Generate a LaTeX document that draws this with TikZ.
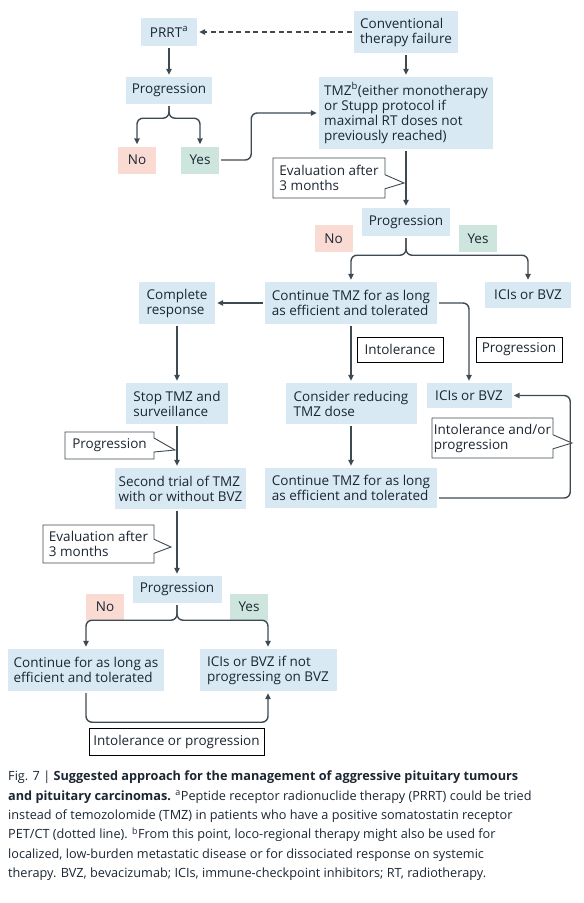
\documentclass[tikz,border=0pt]{standalone}
\usepackage{fontspec}
\setmainfont{Open Sans}
\usetikzlibrary{arrows.meta,shapes.callouts}
\definecolor{boxblue}{HTML}{D8E9F3}
\definecolor{nopink}{HTML}{F9DBD3}
\definecolor{yesgreen}{HTML}{CDE5DC}
\definecolor{linegray}{HTML}{3E4A52}
\definecolor{inkdark}{HTML}{1B2632}
\begin{document}
\begin{tikzpicture}[x=1pt,y=-1pt,
  every node/.style={font=\fontsize{13.5}{15}\selectfont,text=inkdark},
  tbox/.style={fill=boxblue,inner sep=0pt,align=left},
  nobox/.style={fill=nopink,inner sep=0pt,minimum width=38,minimum height=27},
  yesbox/.style={fill=yesgreen,inner sep=0pt,minimum width=38,minimum height=27},
  tagbox/.style={draw=black,line width=0.9pt,fill=white,inner sep=0pt,minimum width=86,minimum height=25},
  callbox/.style={rectangle callout,draw=linegray,line width=0.9pt,fill=white,inner sep=0pt,align=left,callout pointer width=14pt},
  flow/.style={draw=linegray,line width=1.4pt,-{Triangle[length=6pt,width=5.5pt]},shorten >=2pt,shorten <=2pt,rounded corners=6pt}]
\useasboundingbox (0,0) rectangle (584,903);
% PRRT branch
\node[tbox,minimum width=56,minimum height=28] (prrt) at (169,32) {PRRT\textsuperscript{a}};
\node[tbox,minimum width=104,minimum height=42] (failure) at (406,32) {Conventional\\therapy failure};
\node[tbox,minimum width=86,minimum height=27] (progA) at (169,90.5) {Progression};
\node[nobox] (noA) at (137,160) {No};
\node[yesbox] (yesA) at (200,160) {Yes};
\draw[flow,dashed,dash pattern=on 5pt off 3.5pt] (failure.west) -- (prrt.east);
\draw[flow] (prrt) -- (progA);
\draw[flow] (progA.south) -- ++(0,14) -| (noA.north);
\draw[flow] (progA.south) -- ++(0,14) -| (yesA.north);
% TMZ
\node[tbox,minimum width=174,minimum height=72] (tmz) at (406,113) {TMZ\textsuperscript{b}(either monotherapy\\or Stupp protocol if\\maximal RT doses not\\previously reached)};
\draw[flow] (failure) -- (tmz);
\draw[flow] (yesA.east) -- ++(32,0) |- (tmz.west);
\node[callbox,minimum width=112,minimum height=40,callout absolute pointer={(404,183)}] (evalA) at (329,178) {Evaluation after\\3 months};
\node[tbox,minimum width=88,minimum height=28] (progB) at (406,222) {Progression};
\draw[flow] (tmz) -- (progB);
\node[nobox] (noB) at (333.5,238.5) {No};
\node[yesbox] (yesB) at (478,238.5) {Yes};
% TMZ outcomes
\node[tbox,minimum width=172,minimum height=42] (contTMZ) at (351,303) {Continue TMZ for as long\\as efficient and tolerated};
\node[tbox,minimum width=86,minimum height=26] (icisB) at (528,295) {ICIs or BVZ};
\draw[flow] (progB.south) -- ++(0,19) -| (contTMZ.north);
\draw[flow] (progB.south) -- ++(0,19) -| (icisB.north);
\node[tbox,minimum width=76,minimum height=42] (complete) at (177,303) {Complete\\response};
\draw[flow] (contTMZ.west) -- (complete.east);
\node[tbox,minimum width=102,minimum height=41] (stopTMZ) at (177,403.5) {Stop TMZ and\\surveillance};
\draw[flow] (complete) -- (stopTMZ);
\node[tagbox] (intol) at (400,349.5) {Intolerance};
\node[tagbox] (progLbl) at (519,349.5) {Progression};
\node[tbox,minimum width=131,minimum height=41] (consider) at (351,403.5) {Consider reducing\\TMZ dose};
\draw[flow] (contTMZ) -- (consider);
\node[tbox,minimum width=85,minimum height=25] (icisC) at (469,395.5) {ICIs or BVZ};
\draw[flow] (contTMZ.east) -| (icisC.north);
\node[tbox,minimum width=172,minimum height=40] (contTMZb) at (351,488) {Continue TMZ for as long\\as efficient and tolerated};
\draw[flow] (consider) -- (contTMZb);
\draw[flow] ([yshift=-10pt]contTMZb.east) -- ++(133,0) |- (icisC.east);
\node[callbox,minimum width=121,minimum height=40,callout absolute pointer={(572,443)}] (callIP) at (492.5,438) {Intolerance and/or\\progression};
% second trial
\node[tbox,minimum width=131,minimum height=41] (second) at (180.5,488.5) {Second trial of TMZ\\with or without BVZ};
\draw[flow] (stopTMZ.south) -- (stopTMZ.south |- second.north);
\node[callbox,minimum width=89,minimum height=27,callout absolute pointer={(175,450)}] (progC) at (109.5,445.5) {Progression};
\node[tbox,minimum width=89,minimum height=27] (progD) at (177,589.5) {Progression};
\draw[flow] (second.south -| progD) -- (progD.north);
\node[callbox,minimum width=111,minimum height=38,callout absolute pointer={(171,547)}] (evalC) at (98.5,544) {Evaluation after\\3 months};
\node[nobox] (noD) at (105,607) {No};
\node[yesbox] (yesD) at (249,607) {Yes};
\node[tbox,minimum width=156,minimum height=42] (contD) at (86,670) {Continue for as long as\\efficient and tolerated};
\node[tbox,minimum width=137,minimum height=42] (icisD) at (268,670) {ICIs or BVZ if not\\progressing on BVZ};
\draw[flow] (progD.south) -- ++(0,17) -| (contD.north);
\draw[flow] (progD.south) -- ++(0,17) -| (icisD.north);
\draw[flow] (contD.south) -- ++(0,31) -| (icisD.south);
\node[tagbox,minimum width=175,minimum height=27] (intolD) at (176.5,741.5) {Intolerance or progression};
% caption
\node[anchor=north west,align=left,inner sep=0pt,font=\fontsize{12.7}{19.3}\selectfont] (caption) at (8,771)
 {Fig. 7 | \textbf{Suggested approach for the management of aggressive pituitary tumours}\\
  \textbf{and pituitary carcinomas.} \textsuperscript{a}Peptide receptor radionuclide therapy (PRRT) could be tried\\
  instead of temozolomide (TMZ) in patients who have a positive somatostatin receptor\\
  PET/CT (dotted line). \textsuperscript{b}From this point, loco-regional therapy might also be used for\\
  localized, low-burden metastatic disease or for dissociated response on systemic\\
  therapy. BVZ, bevacizumab; ICIs, immune-checkpoint inhibitors; RT, radiotherapy.};
\end{tikzpicture}
\end{document}
